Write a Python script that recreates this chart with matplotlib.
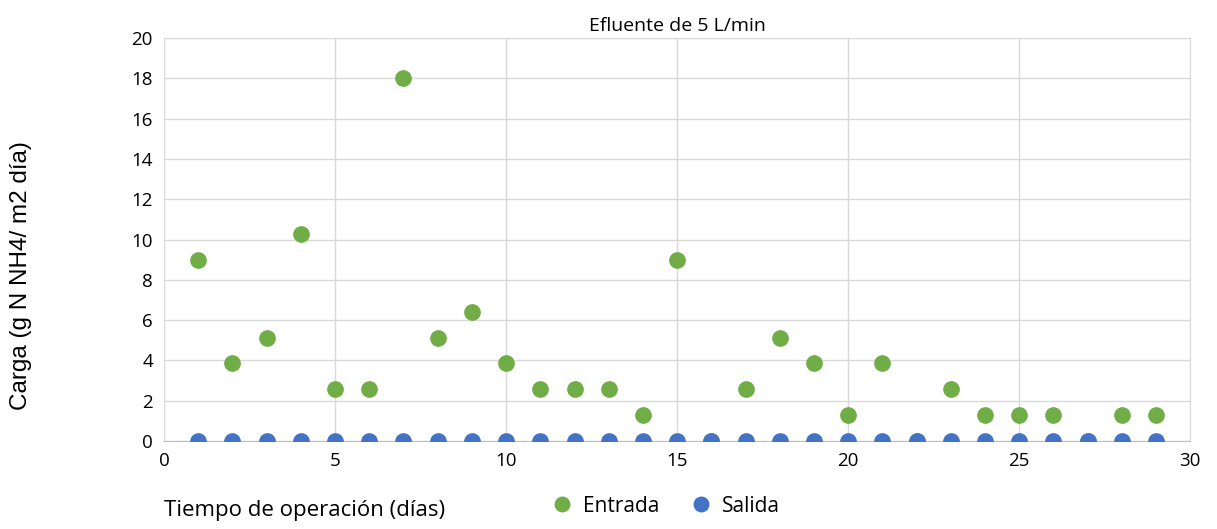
import matplotlib.pyplot as plt
import numpy as np

plt.rcParams['font.family'] = ['Open Sans', 'DejaVu Sans']

dias = list(range(1, 30))
entrada = [9.0, 3.85, 5.13, 10.27, 2.57, 2.57, 18.0, 5.13, 6.42, 3.85,
           2.57, 2.57, 2.57, 1.28, 9.0, 0.0, 2.57, 5.13, 3.85, 1.28,
           3.85, 0.0, 2.57, 1.28, 1.28, 1.28, 0.0, 1.28, 1.28]
salida = [0.0] * 29

fig = plt.figure(figsize=(12.17, 5.29), dpi=100)
ax = fig.add_axes([0.1348, 0.1664, 0.978 - 0.1348, 0.928 - 0.1664])

ax.plot(dias, entrada, 'o', color='#70AD47', ms=11, label='Entrada', zorder=3)
ax.plot(dias, salida, 'o', color='#4472C4', ms=11, label='Salida', zorder=4)

ax.set_xlim(0, 30)
ax.set_ylim(0, 20)
ax.set_xticks(np.arange(0, 31, 5))
ax.set_yticks(np.arange(0, 21, 2))
ax.grid(True, color='#D9D9D9', lw=1)
ax.set_axisbelow(True)
for s in ax.spines.values():
    s.set_color('#D9D9D9')
ax.spines['bottom'].set_color('#BFBFBF')
ax.tick_params(length=0, labelsize=13.5, pad=8, colors='black')

ax.set_title('Efluente de 5 L/min', fontsize=14, pad=5)
fig.text(0.017, 0.48, 'Carga (g N NH4/ m2 día)', rotation=90, va='center', ha='center',
         fontsize=17.5, family='Liberation Sans')
fig.text(0.135, 0.035, 'Tiempo de operación (días)', fontsize=16, va='center')
fig.legend(loc='center', bbox_to_anchor=(0.543, 0.043), ncol=2, frameon=False,
           fontsize=15, handletextpad=0.0, columnspacing=1.0, markerscale=0.95)

fig.savefig('out.png')
